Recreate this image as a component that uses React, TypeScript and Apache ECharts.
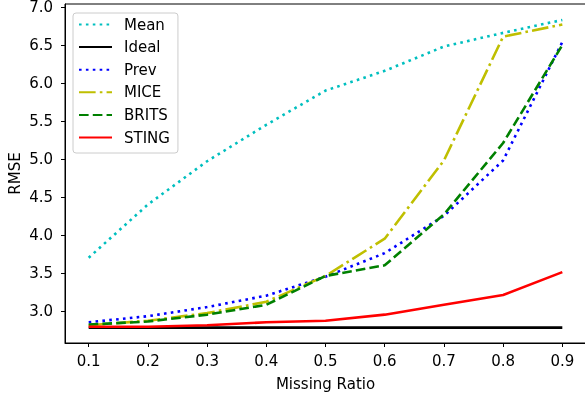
import React, { useEffect, useRef } from "react";
import * as echarts from "echarts";

const ratios = [0.1, 0.2, 0.3, 0.4, 0.5, 0.6, 0.7, 0.8, 0.9];
const meanVals = [3.7, 4.4, 4.97, 5.45, 5.9, 6.16, 6.48, 6.66, 6.83];
const idealVals = [2.78, 2.78, 2.78, 2.78, 2.78, 2.78, 2.78, 2.78, 2.78];
const prevVals = [2.85, 2.93, 3.05, 3.2, 3.45, 3.76, 4.25, 4.98, 6.54];
const miceVals = [2.81, 2.87, 2.97, 3.12, 3.46, 3.95, 4.98, 6.61, 6.77];
const britsVals = [2.82, 2.86, 2.95, 3.08, 3.46, 3.6, 4.27, 5.21, 6.5];
const stingVals = [2.79, 2.79, 2.81, 2.85, 2.87, 2.95, 3.08, 3.21, 3.51];
const xTicks = [0.1, 0.2, 0.3, 0.4, 0.5, 0.6, 0.7, 0.8, 0.9];
const yTicks = [3.0, 3.5, 4.0, 4.5, 5.0, 5.5, 6.0, 6.5, 7.0];

const FONT = "DejaVu Sans";
const FS = 15;
const LW = 2.6;

function mk(name: string, vals: number[], color: string, type: any) {
  return {
    name,
    type: "line",
    data: ratios.map((r, i) => [r, vals[i]]),
    symbol: "none",
    showSymbol: false,
    lineStyle: { color, width: LW, type, cap: "butt" },
    itemStyle: { color },
  };
}

export default function App() {
  const ref = useRef<HTMLDivElement>(null);
  useEffect(() => {
    if (!ref.current) return;
    const chart = echarts.init(ref.current, null, { renderer: "svg" });
    chart.setOption({
      animation: false,
      textStyle: { fontFamily: FONT },
      grid: {
        left: 65,
        right: -1,
        top: 4,
        bottom: 51,
        outerBoundsMode: "none",
        containLabel: false,
        show: true,
        borderColor: "#000",
        borderWidth: 1,
        backgroundColor: "#fff",
      },
      legend: {
        orient: "vertical",
        left: 73,
        top: 13,
        data: ["Mean", "Ideal", "Prev", "MICE", "BRITS", "STING"],
        itemWidth: 33,
        itemHeight: 14,
        itemGap: 7.6,
        padding: [4, 8, 8, 5],
        backgroundColor: "#fff",
        borderColor: "#ccc",
        borderWidth: 1,
        borderRadius: 3,
        itemStyle: { opacity: 0 },
        textStyle: {
          fontFamily: FONT,
          fontSize: FS,
          lineHeight: 15,
          color: "#000",
          padding: [0, 0, 0, 7],
        },
      },
      xAxis: {
        type: "value",
        min: 0.06,
        max: 0.94,
        name: "Missing Ratio",
        nameLocation: "middle",
        nameGap: 33,
        nameMoveOverlap: false,
        nameTextStyle: { fontFamily: FONT, fontSize: FS, color: "#000" },
        axisLine: { show: true, onZero: false, lineStyle: { color: "#000", width: 1 } },
        axisTick: {
          show: true,
          customValues: xTicks,
          length: 4,
          lineStyle: { color: "#000", width: 1 },
        },
        axisLabel: {
          customValues: xTicks,
          formatter: (v: number) => v.toFixed(1),
          fontFamily: FONT,
          fontSize: FS,
          color: "#000",
          margin: 10,
        },
        splitLine: { show: false },
      },
      yAxis: {
        type: "value",
        min: 2.577,
        max: 7.04,
        name: "RMSE",
        nameLocation: "middle",
        nameGap: 43,
        nameMoveOverlap: false,
        nameTextStyle: { fontFamily: FONT, fontSize: FS, color: "#000" },
        axisLine: { show: true, onZero: false, lineStyle: { color: "#000", width: 1 } },
        axisTick: {
          show: true,
          customValues: yTicks,
          length: 4,
          lineStyle: { color: "#000", width: 1 },
        },
        axisLabel: {
          customValues: yTicks,
          formatter: (v: number) => v.toFixed(1),
          fontFamily: FONT,
          fontSize: FS,
          lineHeight: 12,
          padding: [2, 0, 0, 0],
          color: "#000",
          margin: 12,
        },
        splitLine: { show: false },
      },
      series: [
        mk("Mean", meanVals, "#00BFBF", [LW, LW * 1.65]),
        mk("Ideal", idealVals, "#000000", "solid"),
        mk("Prev", prevVals, "#0000FF", [LW, LW * 1.65]),
        mk("MICE", miceVals, "#BFBF00", [LW * 6.4, LW * 1.6, LW, LW * 1.6]),
        mk("BRITS", britsVals, "#008000", [LW * 3.7, LW * 1.6]),
        mk("STING", stingVals, "#FF0000", "solid"),
      ],
    });
    return () => chart.dispose();
  }, []);
  return (
    <div
      ref={ref}
      style={{ position: "fixed", left: 0, top: 0, width: 585, height: 394 }}
    />
  );
}
